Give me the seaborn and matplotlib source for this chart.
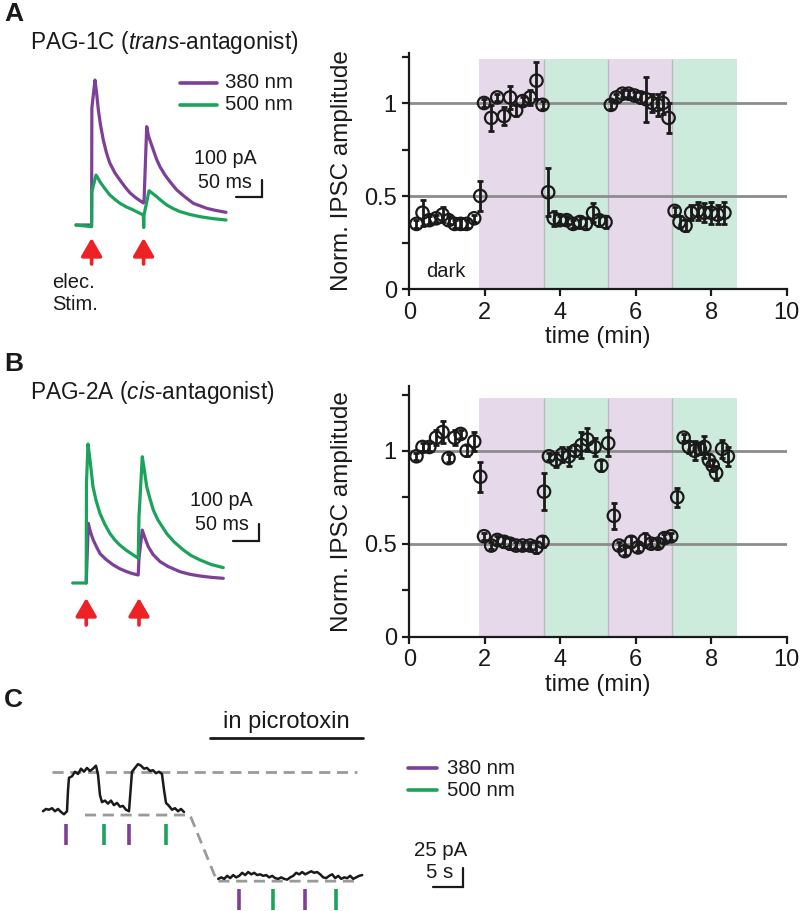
import numpy as np
import pandas as pd
import seaborn as sns
import matplotlib.pyplot as plt
from matplotlib.lines import Line2D

W, H = 800, 911

PURPLE = "#7d3f98"
GREEN = "#1ba35c"
RED = "#ec2227"
SHADE_P = "#e5d9ea"
SHADE_G = "#cdebdc"
GRAY = "#8c8c8c"
INK = "#1a1a1a"

# ---------------- summary data (time in min, normalized IPSC amplitude, sem)
a_time = [0.19, 0.35, 0.53, 0.71, 0.88, 1.04, 1.20, 1.36, 1.52, 1.72, 1.88,
          1.98, 2.17, 2.33, 2.51, 2.67, 2.83, 3.00, 3.20, 3.37, 3.53,
          3.68, 3.83, 3.99, 4.17, 4.34, 4.52, 4.68, 4.87, 5.03, 5.20,
          5.34, 5.49, 5.65, 5.81, 5.97, 6.13, 6.28, 6.44, 6.58, 6.72, 6.87,
          7.03, 7.16, 7.32, 7.47, 7.64, 7.82, 8.00, 8.17, 8.35]
a_amp = [0.35, 0.41, 0.37, 0.38, 0.40, 0.37, 0.35, 0.35, 0.35, 0.38, 0.50,
         1.00, 0.92, 1.03, 0.93, 1.03, 0.96, 1.01, 1.03, 1.12, 0.99,
         0.52, 0.38, 0.37, 0.37, 0.35, 0.36, 0.35, 0.41, 0.37, 0.36,
         0.99, 1.03, 1.05, 1.05, 1.04, 1.03, 1.02, 1.00, 0.99, 1.00, 0.92,
         0.42, 0.36, 0.34, 0.41, 0.42, 0.41, 0.41, 0.40, 0.41]
a_err = [0.02, 0.07, 0.02, 0.02, 0.04, 0.02, 0.02, 0.03, 0.02, 0.02, 0.08,
         0.02, 0.07, 0.02, 0.05, 0.06, 0.03, 0.02, 0.04, 0.10, 0.02,
         0.13, 0.04, 0.02, 0.02, 0.02, 0.03, 0.03, 0.05, 0.03, 0.03,
         0.02, 0.02, 0.02, 0.02, 0.02, 0.03, 0.12, 0.05, 0.06, 0.06, 0.08,
         0.02, 0.03, 0.03, 0.04, 0.05, 0.05, 0.06, 0.05, 0.06]

b_time = [0.19, 0.35, 0.53, 0.71, 0.88, 1.04, 1.20, 1.36, 1.52, 1.72, 1.88,
          1.98, 2.17, 2.33, 2.51, 2.67, 2.83, 3.00, 3.20, 3.37, 3.53,
          3.57, 3.70, 3.88, 4.05, 4.23, 4.39, 4.56, 4.72, 4.91, 5.09, 5.27,
          5.42, 5.56, 5.71, 5.88, 6.06, 6.24, 6.41, 6.59, 6.76, 6.94,
          7.10, 7.27, 7.41, 7.56, 7.70, 7.82, 7.94, 8.04, 8.13, 8.29, 8.44]
b_amp = [0.97, 1.02, 1.02, 1.07, 1.10, 0.96, 1.07, 1.09, 1.00, 1.05, 0.86,
         0.54, 0.49, 0.52, 0.51, 0.50, 0.49, 0.49, 0.49, 0.48, 0.51,
         0.78, 0.97, 0.95, 0.98, 0.97, 1.00, 1.03, 1.06, 1.02, 0.92, 1.04,
         0.65, 0.49, 0.46, 0.51, 0.48, 0.52, 0.50, 0.50, 0.53, 0.54,
         0.75, 1.07, 1.02, 1.00, 1.01, 1.02, 0.95, 0.92, 0.88, 1.01, 0.97]
b_err = [0.02, 0.02, 0.02, 0.04, 0.06, 0.02, 0.04, 0.02, 0.03, 0.05, 0.08,
         0.02, 0.02, 0.02, 0.03, 0.03, 0.02, 0.02, 0.02, 0.03, 0.03,
         0.10, 0.02, 0.04, 0.04, 0.05, 0.03, 0.07, 0.06, 0.05, 0.03, 0.07,
         0.07, 0.02, 0.02, 0.03, 0.02, 0.04, 0.02, 0.02, 0.02, 0.02,
         0.05, 0.02, 0.03, 0.05, 0.03, 0.06, 0.03, 0.03, 0.04, 0.05, 0.05]

# light epochs (min): 380, 500, 380, 500 nm
epoch_edges = [1.85, 3.58, 5.27, 6.96, 8.67]
epoch_colors = [SHADE_P, SHADE_G, SHADE_P, SHADE_G]

# ---------------- example IPSCs (ms, pA)
a380_t = [0, 30, 30.5, 36.5, 39.4, 43, 47.1, 52.5, 58.7, 65, 75, 84.6, 94.2, 104,
          115.4, 129.4, 130.8, 136, 139.4, 148.7, 154.8, 161.5, 171.2, 180.8,
          193.7, 209.6, 225.6, 251.3, 269, 288.5]
a380_i = [0, 0, 700, 868, 796, 689, 599, 509, 431, 371, 311, 269, 228, 192,
          162, 132, 140, 589, 533, 449, 395, 349, 299, 259,
          210, 168, 130, 100, 87, 76]
a500_t = [0, 30, 30.5, 38.5, 42.3, 46, 53.8, 65, 75, 84.6, 97, 110, 129.4, 130.2,
          130.8, 140.4, 146, 155, 163.5, 174.4, 186.5, 200, 219, 238.5, 263.5, 288.5]
a500_i = [0, -10, 200, 299, 281, 259, 225, 180, 153, 130, 108, 90, 60, -15,
          60, 205, 192, 170, 147, 120, 99, 80, 63, 50, 38, 30]

b500_t = [0, 26, 26.5, 29.4, 33.3, 39, 45.2, 52.5, 62.1, 71.7, 81.3, 91, 103.5,
          116.5, 126, 127.5, 133.8, 137.7, 142.3, 148.7, 155, 164, 180.8, 195,
          212.7, 227.5, 244.8, 266, 289.6]
b500_i = [0, 0, 600, 832, 737, 577, 491, 416, 350, 296, 257, 226, 195,
          168, 148, 400, 756, 677, 577, 503, 437, 377, 296, 246,
          198, 165, 138, 111, 92]
b380_t = [26, 30, 34.2, 39.6, 45.8, 52.5, 64, 78, 90.9, 103.8, 114, 126, 127.5,
          133.8, 139, 145.4, 154.4, 168, 183.3, 206, 225.6, 244.8, 266, 289.6]
b380_i = [0, 357, 305, 257, 216, 176, 141, 108, 85, 68, 57, 48, 150,
          317, 269, 217, 171, 128, 99, 68, 52, 42, 34, 28]

stim_a = [30, 130]
stim_b = [26, 127.5]

# ---------------- panel C holding current (s, pA)
c1_t = [0, 0.5, 1.0, 1.5, 2.0, 2.5, 3.0, 3.5, 4.0, 4.17, 4.33, 4.83, 5.33, 5.83,
        6.33, 6.83, 7.33, 7.83, 8.33, 8.83, 9.17, 9.5, 9.83, 10.33, 10.83, 11.33,
        11.83, 12.33, 12.83, 13.33, 13.83, 14.33, 14.67, 14.83, 15.33, 15.83,
        16.33, 16.83, 17.33, 17.83, 18.33, 18.83, 19.33, 19.83, 20.17, 20.5,
        21.0, 21.5, 22.0, 22.5, 23.0, 23.5]
c1_i = [1, 4, 3, 5, 1, 4, 0, -3, 1, 29, 45, 47, 53, 50,
        57, 53, 58, 54, 57, 61, 49, 22, 13, 15, 11, 15,
        9, 12, 7, 8, 3, 1, 36, 53, 58, 63,
        61, 57, 58, 54, 55, 51, 53, 50, 29, 12,
        8, 3, 5, 1, 4, 0]
c2_start, c2_dt = 29.2, 0.5
c2_i = [-88, -86, -88, -84, -87, -83, -86, -84, -80, -83, -79, -82, -80, -83,
        -82, -84, -83, -86, -84, -87, -88, -86, -88, -89, -86, -84, -80, -82,
        -79, -82, -80, -78, -80, -79, -82, -86, -87, -84, -82, -87, -84, -88,
        -86, -87, -84, -88, -86, -84, -83]
c_flash1 = [3.83, 10.17, 14.33, 20.5]
c_flash2 = [32.67, 38.33, 43.67, 48.83]
c_flash_colors = [PURPLE, GREEN, PURPLE, GREEN]

sns.set_style("ticks")
plt.rcParams["font.family"] = ["Liberation Sans", "DejaVu Sans"]
plt.rcParams["mathtext.fontset"] = "custom"
plt.rcParams["mathtext.rm"] = "Liberation Sans"
plt.rcParams["mathtext.it"] = "Liberation Sans:italic"

fig = plt.figure(figsize=(W / 100, H / 100), dpi=100)


def px_axes(x0, y0, x1, y1):
    return fig.add_axes([x0 / W, 1 - y1 / H, (x1 - x0) / W, (y1 - y0) / H])


def trace_axes(box, origin, sx, sy):
    # box in figure px, origin = px of (0, 0), sx/sy = px per data unit
    x0, y0, x1, y1 = box
    ax = px_axes(*box)
    ax.set_xlim((x0 - origin[0]) / sx, (x1 - origin[0]) / sx)
    ax.set_ylim((origin[1] - y1) / sy, (origin[1] - y0) / sy)
    ax.axis("off")
    return ax


def ftext(x, y, s, size=15, **kw):
    kw.setdefault("va", "center")
    fig.text(x / W, 1 - y / H, s, fontsize=size, color=INK, **kw)


def fline(xs, ys, **kw):
    fig.add_artist(Line2D([x / W for x in xs], [1 - y / H for y in ys], **kw))


def stim_arrows(xs, y_tip, y_tail):
    for x in xs:
        fig.add_artist(plt.Annotation(
            "", xy=(x / W, 1 - y_tip / H), xytext=(x / W, 1 - y_tail / H),
            xycoords="figure fraction",
            arrowprops=dict(arrowstyle="-|>,head_length=0.55,head_width=0.32",
                            color=RED, lw=2.6, mutation_scale=20,
                            shrinkA=0, shrinkB=0)))


def trace(ax, t, i, color):
    sns.lineplot(x=t, y=i, ax=ax, color=color, lw=2.3, sort=False, estimator=None)


def summary_axes(y_zero, ytop, shade_top, yticks, time, amp, err):
    y0 = y_zero - ytop * 186
    ax = px_axes(409.3, y0, 786.7, y_zero)
    ax.set_xlim(0, 10)
    ax.set_ylim(0, ytop)
    for (l, r), c in zip(zip(epoch_edges[:-1], epoch_edges[1:]), epoch_colors):
        ax.axvspan(l, r, ymin=0, ymax=shade_top / ytop, color=c, lw=0, zorder=0)
    ax.vlines(epoch_edges[1:-1], 0, shade_top, color="#bdb7c6", lw=1, zorder=0.5)
    ax.hlines([0.5, 1], 0, 10, color=GRAY, lw=2, zorder=1)
    ax.errorbar(time, amp, yerr=err, fmt="none", ecolor=INK, elinewidth=2,
                capsize=2.5, capthick=2, zorder=3)
    sns.scatterplot(x=time, y=amp, ax=ax, marker="o", s=80, zorder=4)
    pts = ax.collections[-1]
    pts.set_facecolor("none")
    pts.set_edgecolor(INK)
    pts.set_linewidth(1.6)
    ax.set_xticks([0, 2, 4, 6, 8, 10])
    ax.set_yticks(yticks)
    ax.set_yticklabels(["0", "", "0.5", "", "1", ""])
    ax.tick_params(direction="out", length=5, width=1.6, labelsize=17,
                   colors=INK, pad=4)
    for s in ["top", "right"]:
        ax.spines[s].set_visible(False)
    for s in ["left", "bottom"]:
        ax.spines[s].set_linewidth(1.6)
        ax.spines[s].set_color(INK)
    ax.set_xlabel("time (min)", fontsize=17, color=INK, labelpad=2)
    ax.set_ylabel("Norm. IPSC amplitude", fontsize=17.5, color=INK, labelpad=8)
    return ax


# ---------------- panel A
ftext(4, 14, "A", size=19, weight="bold")
ftext(30, 42, r"PAG-1C ($\mathit{trans}$-antagonist)", size=16.3)
fline([180, 217], [83, 83], color=PURPLE, lw=2.6)
fline([180, 217], [105, 105], color=GREEN, lw=2.6)
ftext(225, 83, "380 nm", size=14.7)
ftext(225, 105, "500 nm", size=14.7)

ax_ta = trace_axes((40, 55, 300, 330), (76, 225), 0.52, 0.167)
trace(ax_ta, a380_t, a380_i, PURPLE)
trace(ax_ta, a500_t, a500_i, GREEN)
ax_ta.plot([307.7, 357.7, 357.7], [169, 169, 269], color=INK, lw=1.6, solid_joinstyle="miter")
ftext(257, 158, "100 pA", size=14.2, ha="right")
ftext(252, 183, "50 ms", size=14.2, ha="right")
stim_arrows([76 + 0.52 * s for s in stim_a], 238, 264)
ftext(52, 282, "elec.", size=14.5)
ftext(52, 305, "Stim.", size=14.5)

ax_a = summary_axes(289, 1.27, 1.237, [0, 0.25, 0.5, 0.75, 1, 1.25], a_time, a_amp, a_err)
ax_a.text(0.45, 0.093, "dark", fontsize=14.5, color=INK, va="center")

# ---------------- panel B
ftext(4, 364, "B", size=19, weight="bold")
ftext(30, 393, r"PAG-2A ($\mathit{cis}$-antagonist)", size=16.3)
ax_tb = trace_axes((40, 400, 300, 660), (72.7, 583), 0.52, 0.167)
trace(ax_tb, b380_t, b380_i, PURPLE)
trace(ax_tb, b500_t, b500_i, GREEN)
ax_tb.plot([308.3, 358.3, 358.3], [251, 251, 351], color=INK, lw=1.6, solid_joinstyle="miter")
ftext(253, 500, "100 pA", size=14.2, ha="right")
ftext(249, 525, "50 ms", size=14.2, ha="right")
stim_arrows([72.7 + 0.52 * s for s in stim_b], 598, 625)

ax_b = summary_axes(636.7, 1.35, 1.285, [0, 0.25, 0.5, 0.75, 1, 1.3], b_time, b_amp, b_err)

# ---------------- panel C
ftext(4, 700, "C", size=19, weight="bold")
ax_c = trace_axes((0, 680, 800, 911), (43, 812), 6.0, 0.76)
dash = (0, (4, 2.4))
ax_c.plot([1.5, 52.3], [52, 52], color="#9a9a9a", lw=2, ls=dash)
ax_c.plot([7.0, 24.5, 29.0, 52.5], [-4, -4, -91, -91], color="#9a9a9a", lw=2, ls=dash)
sns.lineplot(x=c1_t, y=c1_i, ax=ax_c, color=INK, lw=1.8, sort=False, estimator=None)
c2_t = [c2_start + k * c2_dt for k in range(len(c2_i))]
sns.lineplot(x=c2_t, y=c2_i, ax=ax_c, color=INK, lw=1.8, sort=False, estimator=None)
for t, c in zip(c_flash1, c_flash_colors):
    ax_c.plot([t, t], [-16, -43], color=c, lw=2.6, solid_capstyle="butt")
for t, c in zip(c_flash2, c_flash_colors):
    ax_c.plot([t, t], [-101, -129], color=c, lw=2.6, solid_capstyle="butt", clip_on=False)
ax_c.plot([27.8, 53.3], [97, 97], color=INK, lw=2)
ftext(286, 722, "in picrotoxin", size=17, ha="center")
ax_c.plot([65, 70, 70], [-99, -99, -74], color=INK, lw=1.6, solid_joinstyle="miter")
ftext(467, 850, "25 pA", size=14.7, ha="right")
ftext(453, 872, "5 s", size=14.7, ha="right")
fline([408, 437], [768, 768], color=PURPLE, lw=2.6)
fline([408, 437], [790, 790], color=GREEN, lw=2.6)
ftext(447, 768, "380 nm", size=14.7)
ftext(447, 790, "500 nm", size=14.7)

fig.savefig("out.png", dpi=100)
